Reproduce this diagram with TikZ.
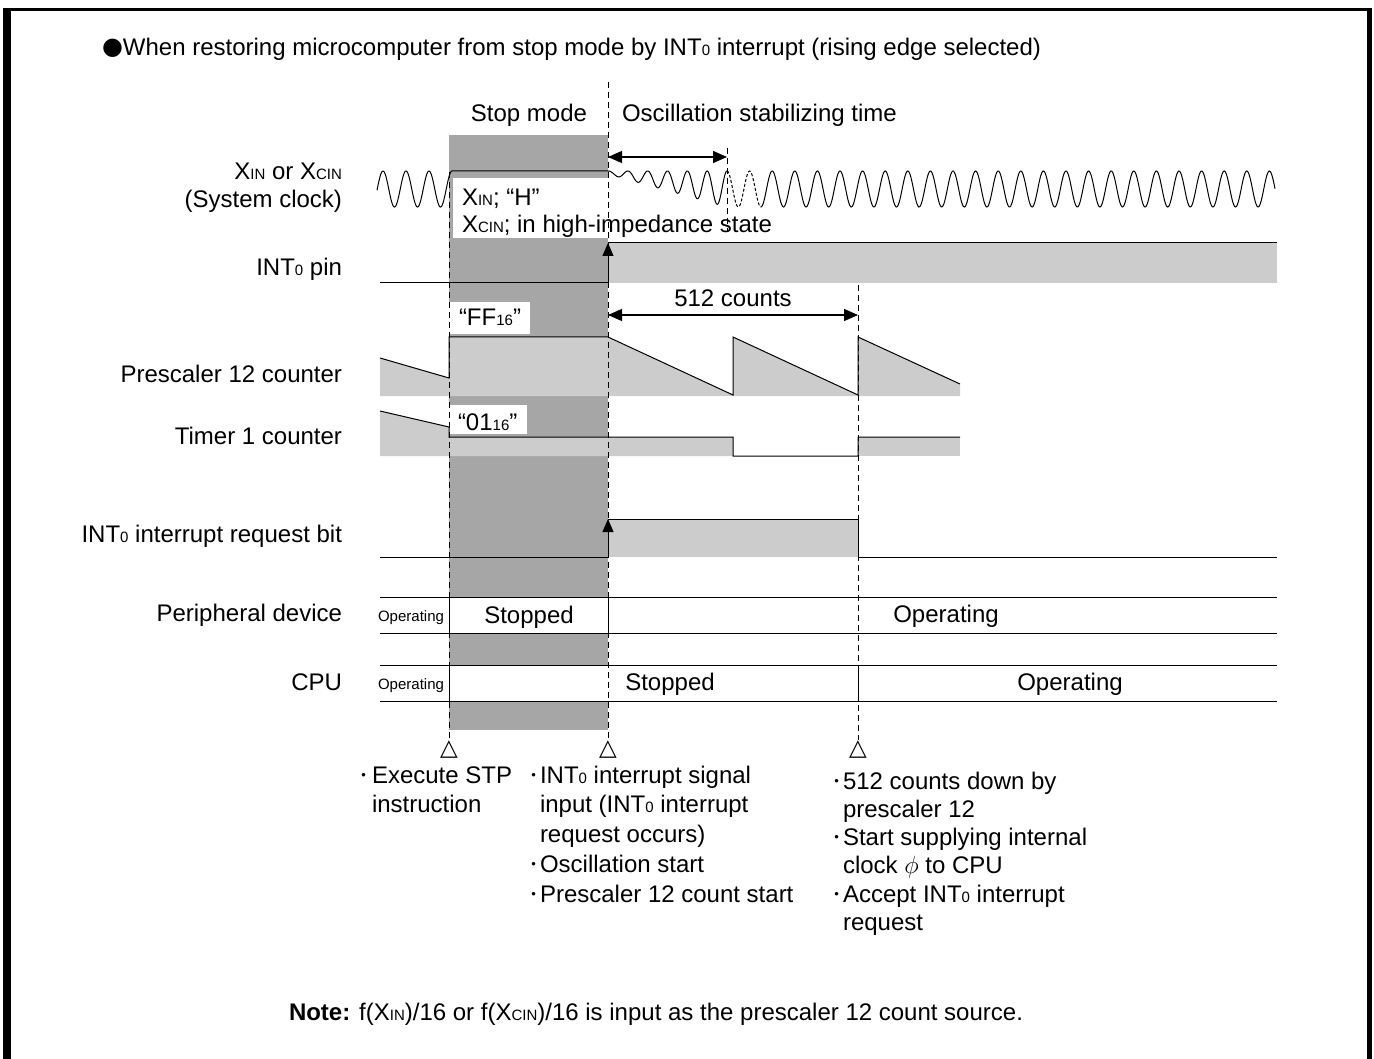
\documentclass[tikz,border=0pt]{standalone}
\usepackage{fontspec}
\setmainfont{Liberation Sans}
\newfontfamily\djv{DejaVu Sans}
\usetikzlibrary{arrows.meta}
\definecolor{bandgray}{HTML}{A6A6A6}
\definecolor{fillgray}{HTML}{CCCCCC}
\newcommand\sm[1]{{\fontsize{15}{15}\selectfont #1}}
\newcommand\bul[1]{\llap{\raisebox{3.5pt}{\fontsize{13}{13}\selectfont •}\hspace{#1}}}
\newcommand\tri{{\djv\fontsize{23}{23}\selectfont △}}
\begin{document}
\begin{tikzpicture}[x=1pt,y=-1pt,
  font=\fontsize{24}{29}\selectfont,
  every node/.style={inner sep=0pt,outer sep=0pt},
  lbl/.style={anchor=base east},
  txt/.style={anchor=base west},
  ctr/.style={anchor=base},
  small/.style={font=\fontsize{15}{15}\selectfont},
  sig/.style={line width=1pt},
  vdash/.style={line width=0.8pt,dash pattern=on 6pt off 4pt},
  dimarrow/.style={line width=1.2pt,{Triangle[length=14pt,width=12pt]}-{Triangle[length=14pt,width=12pt]}},
  edgearrow/.style={line width=1pt,-{Triangle[length=13pt,width=11pt]}}]
\useasboundingbox (0,0) rectangle (1374,1059);
% frame
\fill (3,1059) rectangle (11,8);
\fill (3,8) rectangle (1372,11.5);
\fill (1367,8) rectangle (1372,1059);
% stop mode band
\fill[bandgray] (449,135) rectangle (608,730);
% white label boxes
\fill[white] (453,178) rectangle (608,238);
\fill[white] (449,302) rectangle (530,334);
\fill[white] (449,405) rectangle (527,434);
% INT0 pin
\fill[fillgray] (608,243) rectangle (1277,283);
\draw[sig] (380,283) -- (608,283);
\draw[sig] (608,243) -- (1277,243);
\coordinate (pinlo) at (608,283);
\coordinate (pinhi) at (608,243);
\draw[edgearrow] (pinlo) -- (pinhi);
% prescaler 12 counter
\fill[fillgray] (380,358) -- (449,378) -- (449,337) -- (608,337) -- (733,395) -- (733,337) -- (858,395) -- (858,337) -- (960,384) -- (960,396) -- (380,396) -- cycle;
\draw[sig] (380,358) -- (449,378) -- (449,337) -- (608,337) -- (733,395) -- (733,337) -- (858,395) -- (858,337) -- (960,384);
% timer 1 counter
\fill[fillgray] (380,411) -- (449,427) -- (449,437) -- (733,437) -- (733,456) -- (380,456) -- cycle;
\fill[fillgray] (858,437) rectangle (960,456);
\draw[sig] (380,411) -- (449,427) -- (449,437) -- (733,437) -- (733,456) -- (858,456) -- (858,437) -- (960,437);
% INT0 interrupt request bit
\fill[fillgray] (608,519) rectangle (858,557);
\draw[sig] (380,557) -- (608,557);
\draw[sig] (608,519) -- (858,519) -- (858,557) -- (1277,557);
\coordinate (reqlo) at (608,557);
\coordinate (reqhi) at (608,519);
\draw[edgearrow] (reqlo) -- (reqhi);
% peripheral device row
\fill[white] (380,597) rectangle (1277,633);
\draw[sig] (380,597) -- (1277,597);
\draw[sig] (380,633) -- (1277,633);
\draw[sig] (449,597) -- (449,633);
\draw[sig] (608,597) -- (608,633);
% CPU row
\fill[white] (380,665) rectangle (1277,701);
\draw[sig] (380,665) -- (1277,665);
\draw[sig] (380,701) -- (1277,701);
\draw[sig] (449,665) -- (449,701);
\draw[sig] (858,665) -- (858,701);
% dashed guide lines
\draw[vdash] (449,172) -- (449,740);
\draw[vdash] (608,82) -- (608,740);
\draw[vdash] (727,148) -- (727,232);
\draw[vdash] (858,285) -- (858,740);
% clock waveform
\draw[sig] plot[domain=377:452,samples=120] (\x,{189-18*cos((\x-383)*15.652)}) -- (608,171);
\draw[sig] plot[domain=608:727,samples=260] (\x,{171+(1.5+16.5*(\x-608)/119)*(1-cos((\x-608)*18.151))});
\draw[sig,dash pattern=on 3pt off 2pt] plot[domain=727:761,samples=60] (\x,{189-18*cos((\x-727)*15.929)});
\draw[sig] plot[domain=761:1275,samples=600] (\x,{189-18*cos((\x-727)*15.929)});
% dimension arrows
\coordinate (osA) at (608,157);
\coordinate (osB) at (727,157);
\draw[dimarrow] (osA) -- (osB);
\coordinate (cnA) at (608,315);
\coordinate (cnB) at (858,315);
\draw[dimarrow] (cnA) -- (cnB);
% title and header texts
\node[txt] (title) at (102,56) {\raisebox{1.5pt}{\djv\fontsize{24}{24}\selectfont ●}When restoring microcomputer from stop mode by INT\sm{0} interrupt (rising edge selected)};
\node[ctr] (stopmode) at (529,122) {Stop mode};
\node[txt] (osc) at (622,122) {Oscillation stabilizing time};
\node[ctr] (cnt512) at (733,307) {512 counts};
% signal labels
\node[lbl] (lxin) at (342,180) {X\sm{IN} or X\sm{CIN}};
\node[lbl] (lsys) at (342,208) {(System clock)};
\node[lbl] (lpin) at (342,276) {INT\sm{0} pin};
\node[lbl] (lpre) at (342,383) {Prescaler 12 counter};
\node[lbl] (ltim) at (342,444) {Timer 1 counter};
\node[lbl] (lreq) at (342,542) {INT\sm{0} interrupt request bit};
\node[lbl] (lper) at (342,621) {Peripheral device};
\node[lbl] (lcpu) at (342,690) {CPU};
% in-diagram texts
\node[txt] (xh) at (462,206) {X\sm{IN}; “H”};
\node[txt] (xz) at (462,233) {X\sm{CIN}; in high-impedance state};
\node[txt] (ff) at (459,326) {“FF\sm{16}”};
\node[txt] (z1) at (458,430) {“01\sm{16}”};
\node[ctr,small] (perop1) at (411,621) {Operating};
\node[ctr] (perst) at (529,623) {Stopped};
\node[ctr] (perop2) at (946,622) {Operating};
\node[ctr,small] (cpuop1) at (411,689) {Operating};
\node[ctr] (cpust) at (670,690) {Stopped};
\node[ctr] (cpuop2) at (1070,690) {Operating};
% event markers
\node[ctr] (mA) at (449,755) {\tri};
\node[ctr] (mB) at (608,755) {\tri};
\node[ctr] (mC) at (858,755) {\tri};
% event descriptions
\node[txt] (a1) at (372,783) {\bul{6pt}Execute STP};
\node[txt] (a2) at (372,812) {instruction};
\node[txt] (b1) at (540,783) {\bul{4pt}INT\sm{0} interrupt signal};
\node[txt] (b2) at (540,812) {input (INT\sm{0} interrupt};
\node[txt] (b3) at (540,842) {request occurs)};
\node[txt] (b4) at (540,872) {\bul{4pt}Oscillation start};
\node[txt] (b5) at (540,902) {\bul{4pt}Prescaler 12 count start};
\node[txt] (c1) at (843,789) {\bul{4pt}512 counts down by};
\node[txt] (c2) at (843,817) {prescaler 12};
\node[txt] (c3) at (843,845) {\bul{4pt}Start supplying internal};
\node[txt] (c4) at (843,873) {clock $\phi$ to CPU};
\node[txt] (c5) at (843,902) {\bul{4pt}Accept INT\sm{0} interrupt};
\node[txt] (c6) at (843,930) {request};
% note
\node[txt] (note) at (289,1020) {\textbf{Note:} f(X\sm{IN})/16 or f(X\sm{CIN})/16 is input as the prescaler 12 count source.};
\end{tikzpicture}
\end{document}
